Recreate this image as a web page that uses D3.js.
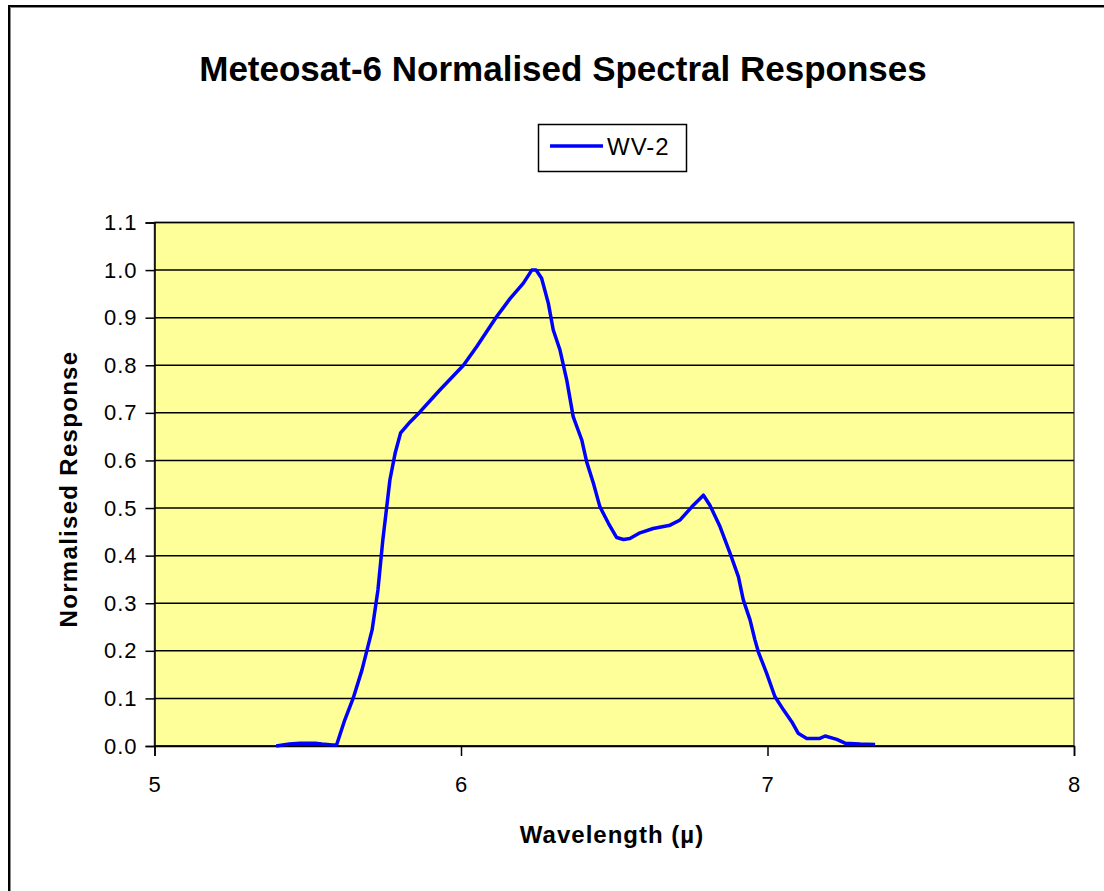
<!DOCTYPE html>
<html>
<head>
<meta charset="utf-8">
<script src="https://cdn.jsdelivr.net/npm/d3@7"></script>
<style>
  body { margin: 0; background: #fff; }
  text { font-family: "Liberation Sans", Arial, sans-serif; }
</style>
</head>
<body>
<div id="chart"></div>
<script>
// WV-2 channel response
var wavelength = [5.397, 5.44, 5.475, 5.524, 5.546, 5.58, 5.594, 5.621, 5.648, 5.677, 5.71, 5.729,
  5.745, 5.768, 5.785, 5.803, 5.834, 5.866, 5.931, 6.008, 6.051, 6.116, 6.16, 6.203, 6.231,
  6.245, 6.263, 6.285, 6.301, 6.323, 6.345, 6.366, 6.394, 6.41, 6.432, 6.453, 6.481, 6.508,
  6.53, 6.551, 6.584, 6.627, 6.682, 6.715, 6.758, 6.791, 6.812, 6.845, 6.878, 6.905, 6.921,
  6.943, 6.959, 6.97, 6.997, 7.024, 7.052, 7.079, 7.1, 7.128, 7.171, 7.188, 7.226, 7.253,
  7.302, 7.351];
var response = [0, 0.004, 0.006, 0.006, 0.004, 0.002, 0.002, 0.055, 0.1, 0.16, 0.244, 0.328,
  0.433, 0.559, 0.615, 0.658, 0.681, 0.702, 0.748, 0.8, 0.839, 0.902, 0.94, 0.972, 1.0,
  1.0, 0.983, 0.93, 0.874, 0.832, 0.769, 0.692, 0.643, 0.597, 0.552, 0.503, 0.468, 0.438,
  0.434, 0.436, 0.448, 0.457, 0.464, 0.475, 0.506, 0.527, 0.506, 0.461, 0.405, 0.356, 0.307,
  0.265, 0.223, 0.198, 0.153, 0.104, 0.076, 0.051, 0.027, 0.016, 0.016, 0.021, 0.014, 0.006,
  0.004, 0.003];
var xTicks = [5, 6, 7, 8];
var yTicks = [0, 0.1, 0.2, 0.3, 0.4, 0.5, 0.6, 0.7, 0.8, 0.9, 1.0, 1.1];
var seriesName = "WV-2";

var data = wavelength.map(function(w, i) { return {w: w, r: response[i]}; });

var width = 1104, height = 891;
var margin = {top: 222.5, right: 30, bottom: 145, left: 154.5};
var plotW = 1074 - margin.left,
    plotH = 746 - margin.top;

var svg = d3.select("#chart").append("svg")
  .attr("width", width)
  .attr("height", height);

// outer frame
svg.append("rect")
  .attr("x", 9).attr("y", 6)
  .attr("width", 1200).attr("height", 1000)
  .attr("fill", "none")
  .attr("stroke", "#000")
  .attr("stroke-width", 2);
svg.append("rect")
  .attr("x", 10.5).attr("y", 7.5)
  .attr("width", 1200).attr("height", 1000)
  .attr("fill", "none")
  .attr("stroke", "#888")
  .attr("stroke-width", 1);

svg.append("text")
  .attr("x", 563).attr("y", 81)
  .attr("text-anchor", "middle")
  .style("font-size", "35px")
  .style("font-weight", "bold")
  .text("Meteosat-6 Normalised Spectral Responses");

var g = svg.append("g")
  .attr("transform", "translate(" + margin.left + "," + margin.top + ")");

var x = d3.scaleLinear().domain([5, 8]).range([0, plotW]);
var y = d3.scaleLinear().domain([0, 1.1]).range([plotH, 0]);

g.append("rect")
  .attr("width", plotW).attr("height", plotH)
  .attr("fill", "#ffff99")
  .attr("stroke", "#555")
  .attr("stroke-width", 1.5);

g.selectAll(".grid")
  .data(yTicks)
  .enter().append("line")
  .attr("class", "grid")
  .attr("x1", 0).attr("x2", plotW)
  .attr("y1", function(d) { return y(d); })
  .attr("y2", function(d) { return y(d); })
  .attr("stroke", "#000")
  .attr("stroke-width", 1.5);

var yAxis = d3.axisLeft(y)
  .tickValues(yTicks)
  .tickSize(9)
  .tickPadding(8)
  .tickFormat(d3.format(".1f"));

var xAxis = d3.axisBottom(x)
  .tickValues(xTicks)
  .tickSize(10)
  .tickPadding(20)
  .tickFormat(d3.format("d"));

var ya = g.append("g").attr("class", "y axis").call(yAxis);
var xa = g.append("g").attr("class", "x axis")
  .attr("transform", "translate(0," + plotH + ")")
  .call(xAxis);

[ya, xa].forEach(function(a) {
  a.select(".domain").attr("stroke", "#000").attr("stroke-width", 1.5);
  a.selectAll(".tick line").attr("stroke", "#000").attr("stroke-width", 1.5);
  a.selectAll(".tick text")
    .attr("fill", "#000")
    .style("font-family", "'Liberation Sans', Arial, sans-serif")
    .style("font-size", "22px")
    .style("letter-spacing", "1px");
});

var line = d3.line()
  .x(function(d) { return x(d.w); })
  .y(function(d) { return y(d.r); });

g.append("path")
  .datum(data)
  .attr("fill", "none")
  .attr("stroke", "#0000ff")
  .attr("stroke-width", 3.5)
  .attr("stroke-linejoin", "round")
  .attr("d", line);

// legend
var lg = svg.append("g");
lg.append("rect")
  .attr("x", 538.5).attr("y", 124.5)
  .attr("width", 148).attr("height", 47)
  .attr("fill", "#fff")
  .attr("stroke", "#000")
  .attr("stroke-width", 1.5);
lg.append("line")
  .attr("x1", 550).attr("x2", 603)
  .attr("y1", 146).attr("y2", 146)
  .attr("stroke", "#0000ff")
  .attr("stroke-width", 3.5);
lg.append("text")
  .attr("x", 607).attr("y", 155)
  .style("font-size", "24px")
  .style("letter-spacing", "1px")
  .text(seriesName);

// axis titles
svg.append("text")
  .attr("x", 612).attr("y", 843)
  .attr("text-anchor", "middle")
  .style("font-size", "24px")
  .style("font-weight", "bold")
  .style("letter-spacing", "1px")
  .text("Wavelength (µ)");

svg.append("text")
  .attr("transform", "translate(77,489) rotate(-90)")
  .attr("text-anchor", "middle")
  .style("font-size", "24px")
  .style("font-weight", "bold")
  .style("letter-spacing", "1.3px")
  .text("Normalised Response");
</script>
</body>
</html>
